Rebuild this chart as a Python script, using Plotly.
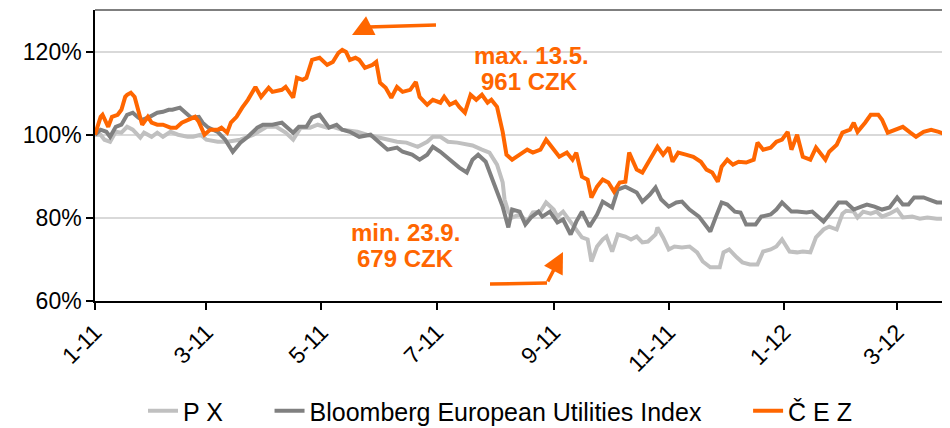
import pandas as pd
import plotly.graph_objects as go

# values: day offset from 1 Jan 2011, level in % of start
START = pd.Timestamp("2011-01-01")

px_days = [0, 3, 5, 8, 11, 14, 17, 20, 24, 26, 30, 33, 36, 40, 44, 49, 52, 56, 59, 65, 70,
           77, 84, 91, 96, 101, 105, 109, 114, 118, 123, 126, 131, 139, 144, 149, 155, 160,
           165, 171, 176, 179, 183, 187, 192, 197, 200, 205, 209, 213, 216, 217, 219, 221,
           225, 229, 232, 236, 239, 243, 245, 248, 252, 255, 258, 261, 263, 266, 269, 271,
           274, 277, 281, 284, 287, 290, 293, 297, 298, 301, 304, 307, 311, 315, 319, 322,
           326, 328, 331, 333, 336, 340, 343, 347, 351, 354, 358, 361, 364, 368, 372, 375,
           379, 382, 386, 389, 393, 396, 398, 402, 404, 407, 411, 414, 417, 421, 425, 428,
           433, 437, 441, 446, 450, 452]
px_vals = [100.0, 100.0, 98.8, 98.3, 100.7, 100.5, 101.9, 101.2, 99.3, 100.5, 99.5, 100.5,
           99.5, 100.7, 100.0, 99.5, 99.5, 100.0, 98.8, 98.3, 98.3, 98.8, 100.0, 101.9, 101.9,
           100.5, 98.8, 101.7, 101.7, 102.4, 101.7, 101.9, 101.2, 100.7, 100.0, 99.5, 98.8,
           98.3, 98.1, 97.1, 98.3, 99.5, 99.5, 98.3, 98.1, 97.6, 97.4, 96.4, 95.7, 92.8, 88.5,
           84.4, 81.5, 80.1, 80.8, 79.1, 81.3, 81.5, 83.7, 82.0, 80.3, 81.5, 79.1, 77.2, 75.3,
           74.8, 69.5, 73.1, 74.8, 75.5, 71.9, 76.0, 75.5, 74.8, 75.5, 74.1, 74.3, 76.0, 77.7,
           75.3, 72.4, 73.1, 72.9, 73.1, 71.7, 69.5, 68.1, 68.1, 68.1, 71.7, 72.4, 70.5, 69.3,
           68.8, 68.8, 71.9, 72.4, 73.1, 74.8, 71.9, 71.7, 71.9, 71.7, 75.3, 77.2, 77.9, 77.2,
           81.0, 81.7, 81.5, 80.1, 81.5, 81.0, 81.5, 80.3, 81.0, 82.0, 80.1, 80.3, 79.8, 80.1,
           79.8, 79.8, 78.2]

bbg_days = [0, 3, 6, 8, 11, 14, 17, 20, 23, 25, 29, 33, 36, 39, 41, 45, 48, 51, 55, 57, 60,
            65, 69, 73, 77, 81, 86, 89, 94, 99, 102, 105, 108, 112, 115, 119, 124, 128, 131,
            135, 140, 146, 149, 155, 160, 163, 168, 172, 176, 179, 183, 186, 190, 193, 197,
            200, 203, 207, 210, 213, 216, 219, 221, 225, 228, 231, 235, 237, 241, 245, 248,
            252, 255, 258, 262, 266, 269, 274, 277, 281, 284, 287, 290, 294, 297, 300, 304,
            308, 311, 315, 320, 326, 329, 332, 335, 339, 342, 345, 350, 353, 358, 361, 364,
            369, 372, 377, 380, 384, 386, 389, 394, 398, 402, 406, 409, 413, 417, 421, 425,
            428, 431, 434, 439, 442, 446, 449, 452]
bbg_vals = [100.0, 101.2, 100.7, 99.5, 101.9, 102.4, 104.8, 105.3, 104.1, 103.6, 104.3,
            105.3, 105.5, 106.0, 106.0, 106.5, 105.3, 104.1, 104.3, 102.9, 101.7, 100.7, 98.8,
            95.9, 98.1, 99.5, 101.7, 102.4, 102.4, 102.9, 101.7, 100.5, 101.9, 101.9, 104.1,
            104.8, 101.7, 102.4, 101.2, 100.7, 99.5, 100.0, 98.8, 96.4, 96.9, 95.9, 95.2, 94.0,
            95.2, 97.1, 95.9, 94.7, 93.3, 92.1, 90.9, 94.0, 95.2, 93.5, 89.9, 86.1, 82.7, 77.7,
            82.0, 81.5, 78.4, 80.1, 81.5, 80.3, 81.5, 78.9, 79.6, 76.0, 79.1, 81.5, 77.9, 80.8,
            83.9, 82.5, 86.8, 87.5, 86.8, 86.1, 83.9, 85.6, 87.3, 84.4, 82.7, 83.7, 83.9, 82.0,
            80.3, 76.7, 80.3, 83.7, 83.2, 81.5, 81.3, 78.4, 78.4, 80.3, 80.8, 82.0, 83.7, 81.5,
            81.5, 81.3, 81.5, 80.1, 79.1, 80.8, 83.7, 83.7, 82.0, 82.7, 83.2, 82.7, 82.0, 82.5,
            84.9, 83.2, 83.2, 84.9, 84.9, 84.4, 83.7, 83.7, 82.5]

cez_days = [0, 3, 4, 7, 9, 12, 14, 16, 17, 19, 21, 23, 25, 28, 30, 33, 36, 40, 43, 46, 49,
            51, 53, 55, 58, 61, 65, 67, 70, 72, 75, 78, 81, 85, 88, 92, 94, 99, 101, 105, 107,
            110, 112, 115, 119, 123, 126, 129, 131, 133, 135, 138, 140, 143, 147, 149, 151,
            154, 157, 160, 163, 167, 170, 172, 176, 179, 183, 185, 188, 191, 193, 196, 199,
            202, 205, 208, 210, 213, 216, 218, 221, 225, 229, 232, 236, 239, 243, 246, 250,
            253, 255, 258, 261, 263, 266, 269, 272, 275, 278, 281, 283, 287, 290, 293, 298,
            301, 304, 306, 309, 313, 317, 321, 324, 327, 330, 332, 335, 338, 341, 345, 349,
            351, 354, 358, 361, 364, 367, 369, 372, 375, 379, 382, 387, 389, 393, 396, 400,
            402, 404, 408, 411, 415, 417, 420, 424, 428, 432, 435, 439, 443, 447, 451]
cez_vals = [100.0, 104.3, 104.8, 101.9, 104.3, 104.8, 106.0, 109.1, 109.6, 110.1, 109.1,
            106.0, 102.4, 104.3, 102.9, 102.4, 102.4, 101.7, 101.7, 102.9, 103.6, 104.1, 104.3,
            103.1, 100.0, 101.2, 101.2, 101.7, 100.5, 102.9, 104.3, 106.5, 108.4, 111.5, 109.1,
            111.3, 110.3, 110.8, 111.5, 108.9, 113.7, 113.2, 113.7, 118.0, 118.5, 116.8, 117.5,
            119.7, 120.4, 119.9, 118.0, 118.5, 118.0, 116.1, 116.8, 117.5, 112.5, 111.3, 108.9,
            111.5, 110.3, 110.8, 112.7, 109.1, 107.2, 108.4, 107.7, 109.1, 107.2, 107.9, 106.7,
            105.3, 109.6, 108.4, 109.6, 107.7, 108.4, 106.7, 100.7, 95.2, 94.0, 95.2, 96.4,
            95.7, 96.4, 98.8, 96.4, 94.7, 95.7, 94.0, 95.7, 89.9, 89.2, 84.9, 87.5, 89.2, 88.5,
            86.3, 88.5, 88.7, 95.7, 91.6, 90.9, 93.3, 97.1, 95.2, 96.9, 93.5, 95.7, 95.2, 94.7,
            93.5, 91.6, 90.9, 88.7, 92.3, 94.0, 92.8, 93.5, 93.3, 94.0, 98.1, 96.4, 96.9, 98.3,
            98.8, 100.7, 96.4, 100.0, 94.7, 94.0, 96.9, 94.0, 95.9, 97.6, 100.5, 101.2, 102.9,
            100.7, 102.9, 104.8, 104.8, 103.6, 100.5, 101.2, 101.9, 100.5, 99.5, 100.7, 101.2,
            100.7, 100.0]

tick_dates = ["2011-01-01", "2011-03-01", "2011-05-01", "2011-07-01", "2011-09-01",
              "2011-11-01", "2012-01-01", "2012-03-01"]
tick_text = ["1-11", "3-11", "5-11", "7-11", "9-11", "11-11", "1-12", "3-12"]
y_ticks = [60, 80, 100, 120]

ORANGE = "#ff6600"
FONT = "Liberation Sans, Arial, sans-serif"
NB = "\u00a0"   # extra room between legend entries, as in the original

def dates(days):
    return START + pd.to_timedelta(days, unit="D")

fig = go.Figure()
for name, d, v, c in [("P X" + NB * 6, px_days, px_vals, "#c0c0c0"),
                      ("Bloomberg European Utilities Index" + NB * 6, bbg_days, bbg_vals, "#808080"),
                      ("Č E Z", cez_days, cez_vals, ORANGE)]:
    fig.add_trace(go.Scatter(x=dates(d), y=v, mode="lines", name=name,
                             line=dict(color=c, width=4)))

# the page puts the figure 8 px in from the top-left corner (body margin);
# plot area in page pixels is 95..950 wide, 10..301 tall
OFF = 8
W, H = 950, 428
L, R, T, B = 95, 950, 10, 301
def pxx(x): return (x - L) / (R - L)
def pxy(y): return (B - y) / (B - T)

notes = [("max. 13.5.", 531, 40), ("961 CZK", 529, 66),
         ("min. 23.9.", 405, 248), ("679 CZK", 405, 274)]
for txt, x, y in notes:
    fig.add_annotation(text=f"<b>{txt}</b>", xref="paper", yref="paper", x=pxx(x), y=pxy(y),
                       showarrow=False, font=dict(size=24, color=ORANGE, family=FONT))

# arrows: a straight shaft plus a short headed segment
for (x0, y0, x1, y1, tx, ty) in [(436, 25, 368, 27, 352, 35), (490, 284, 547, 283, 563, 252)]:
    fig.add_shape(type="line", xref="paper", yref="paper", x0=pxx(x0), y0=pxy(y0),
                  x1=pxx(x1), y1=pxy(y1), line=dict(color=ORANGE, width=3.5))
    fig.add_annotation(xref="paper", yref="paper", x=pxx(tx), y=pxy(ty), text="",
                       showarrow=True, ax=x1 - tx, ay=y1 - ty, arrowhead=2, arrowsize=1.2,
                       arrowwidth=3.5, arrowcolor=ORANGE)

# chart title, cut off at the top edge of the picture
fig.add_annotation(text="<b>ČEZ vs. PX a Bloomberg Utilities Index</b>", xref="paper",
                   yref="paper", x=pxx(555), y=pxy(4), yanchor="bottom", showarrow=False,
                   font=dict(size=24, color="black", family=FONT))
fig.add_shape(type="line", xref="paper", yref="paper", x0=0, x1=1, y0=1, y1=1,
              line=dict(color="#7f7f7f", width=2))

fig.update_layout(
    width=W, height=H,
    margin=dict(l=L - OFF, r=W + OFF - R, t=T - OFF, b=H + OFF - B, autoexpand=False),
    paper_bgcolor="white", plot_bgcolor="white",
    font=dict(family=FONT, size=23, color="black"),
    showlegend=True,
    legend=dict(orientation="h", xanchor="center", x=pxx(500), yanchor="middle", y=pxy(411),
                font=dict(size=25), bgcolor="rgba(0,0,0,0)"),
)
fig.update_xaxes(type="date", range=[START, START + pd.Timedelta(days=453)],
                 tickvals=tick_dates, ticktext=tick_text, tickangle=-45, automargin=False,
                 showgrid=False, showline=True, linecolor="black", linewidth=1.5,
                 ticks="outside", ticklen=7, tickcolor="black", tickwidth=1.5,
                 tickfont=dict(size=23), zeroline=False)
fig.update_yaxes(range=[60, 130], tickvals=y_ticks, ticktext=[f"{v}%" for v in y_ticks],
                 automargin=False,
                 showgrid=True, gridcolor="#d9d9d9", gridwidth=1.5,
                 showline=True, linecolor="black", linewidth=1.5,
                 ticks="outside", ticklen=7, tickcolor="black", tickwidth=1.5,
                 tickfont=dict(size=23), zeroline=False)

fig.write_html("out.html")
